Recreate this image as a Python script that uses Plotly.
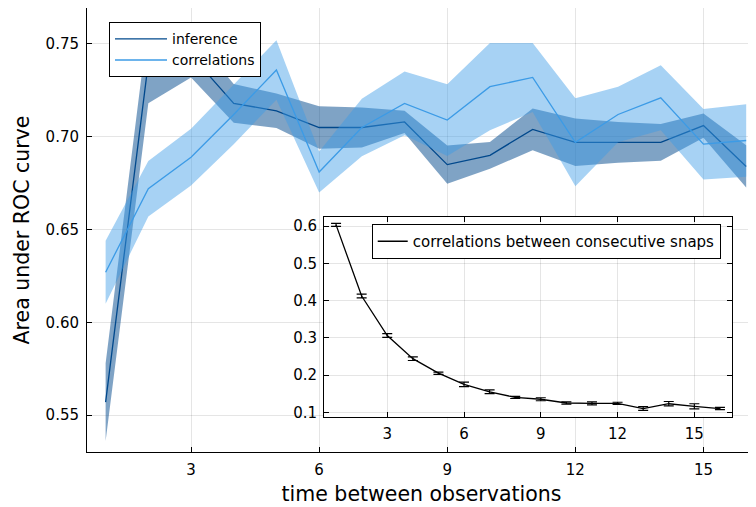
import plotly.graph_objects as go

# ---------------- data ----------------
steps = list(range(1, 17))

inference_auc = [0.557, 0.740, 0.744, 0.718, 0.714, 0.705, 0.705, 0.708,
                 0.685, 0.690, 0.704, 0.697, 0.697, 0.697, 0.706, 0.684]
inference_err = [0.021, 0.022, 0.012, 0.0104, 0.0093, 0.0114, 0.0108, 0.006,
                 0.0103, 0.0072, 0.0113, 0.0128, 0.011, 0.0099, 0.0065, 0.0114]

correlations_auc = [0.627, 0.672, 0.689, 0.712, 0.736, 0.681, 0.705, 0.718,
                    0.709, 0.727, 0.732, 0.697, 0.712, 0.721, 0.696, 0.698]
correlations_err = [0.017, 0.015, 0.0153, 0.016, 0.016, 0.011, 0.0155, 0.0172,
                    0.0193, 0.0235, 0.0186, 0.0237, 0.015, 0.0175, 0.019, 0.0195]

snap_corr = [0.603, 0.412, 0.306, 0.244, 0.205, 0.175, 0.155, 0.140,
             0.135, 0.125, 0.124, 0.124, 0.110, 0.123, 0.116, 0.110]
snap_corr_err = [0.004, 0.005, 0.005, 0.005, 0.003, 0.006, 0.005, 0.003,
                 0.004, 0.003, 0.004, 0.003, 0.005, 0.006, 0.007, 0.003]

x_ticks = [3, 6, 9, 12, 15]
main_y_ticks = [0.55, 0.60, 0.65, 0.70, 0.75]
inset_y_ticks = [0.1, 0.2, 0.3, 0.4, 0.5, 0.6]

# ---------------- styling ----------------
FONT = "DejaVu Sans"
INF_LINE = "rgb(0,72,140)"
INF_FILL = "rgba(0,72,140,0.5)"
COR_LINE = "rgb(60,155,230)"
COR_FILL = "rgba(60,155,230,0.45)"
GRID = "rgba(0,0,0,0.1)"

fig = go.Figure()


def ribbon(x, y, e, fill):
    upper = [a + b for a, b in zip(y, e)]
    lower = [a - b for a, b in zip(y, e)]
    return go.Scatter(x=list(x) + list(x)[::-1], y=upper + lower[::-1],
                      fill="toself", fillcolor=fill, mode="lines",
                      line=dict(width=0), hoverinfo="skip", showlegend=False,
                      xaxis="x", yaxis="y")


fig.add_trace(ribbon(steps, inference_auc, inference_err, INF_FILL))
fig.add_trace(go.Scatter(x=steps, y=inference_auc, mode="lines", name="inference",
                         line=dict(color=INF_LINE, width=1.3), xaxis="x", yaxis="y",
                         legend="legend"))
fig.add_trace(ribbon(steps, correlations_auc, correlations_err, COR_FILL))
fig.add_trace(go.Scatter(x=steps, y=correlations_auc, mode="lines", name="correlations",
                         line=dict(color=COR_LINE, width=1.3), xaxis="x", yaxis="y",
                         legend="legend"))

fig.add_trace(go.Scatter(x=steps, y=snap_corr, mode="lines",
                         name="correlations between consecutive snaps",
                         line=dict(color="black", width=1.3),
                         error_y=dict(type="data", array=snap_corr_err, visible=True,
                                      color="black", thickness=1.2, width=5),
                         xaxis="x2", yaxis="y2", legend="legend2"))

inset_xrange = [0.53, 16.46]
inset_yrange = [0.0882, 0.6234]

fig.add_shape(type="rect", xref="x2", yref="y2",
              x0=inset_xrange[0], x1=inset_xrange[1],
              y0=inset_yrange[0], y1=inset_yrange[1],
              fillcolor="white", line=dict(width=0), layer="below")

axis_common = dict(showgrid=True, gridcolor=GRID, gridwidth=1, zeroline=False,
                   showline=True, linecolor="black", linewidth=1,
                   ticks="inside", ticklen=5, tickcolor="black",
                   tickfont=dict(family=FONT, size=15, color="black"))

# page body has an 8px margin, so the figure is 8px smaller on each axis
fig.update_layout(
    width=748, height=499,
    margin=dict(l=79, r=0, t=0, b=55),
    paper_bgcolor="white", plot_bgcolor="white",
    font=dict(family=FONT, color="black"),
    xaxis=dict(domain=[0, 1], range=[0.564, 16.23], tickvals=x_ticks,
               ticklabelstandoff=4,
               title=dict(text="time between observations",
                          font=dict(family=FONT, size=20.5), standoff=8),
               **axis_common),
    yaxis=dict(domain=[0, 1], range=[0.5301, 0.7694], tickvals=main_y_ticks,
               tickformat=".2f", ticklabelstandoff=4,
               title=dict(text="Area under ROC curve",
                          font=dict(family=FONT, size=20.5), standoff=10),
               **axis_common),
    xaxis2=dict(domain=[0.3543, 0.9637], anchor="y2", range=inset_xrange,
                tickvals=x_ticks, mirror="ticks", ticklabelstandoff=3,
                **axis_common),
    yaxis2=dict(domain=[0.0795, 0.5286], anchor="x2", range=inset_yrange,
                tickvals=inset_y_ticks, tickformat=".1f", mirror="ticks",
                ticklabelstandoff=3,
                **axis_common),
    legend=dict(x=0.0329, y=0.968, xanchor="left", yanchor="top",
                bgcolor="white", bordercolor="black", borderwidth=1,
                font=dict(family=FONT, size=14, color="black"),
                itemwidth=52, tracegroupgap=0),
    legend2=dict(x=0.4256, y=0.5135, xanchor="left", yanchor="top",
                 bgcolor="white", bordercolor="black", borderwidth=1,
                 font=dict(family=FONT, size=15, color="black")),
    showlegend=True,
)

fig.write_html("out.html")
